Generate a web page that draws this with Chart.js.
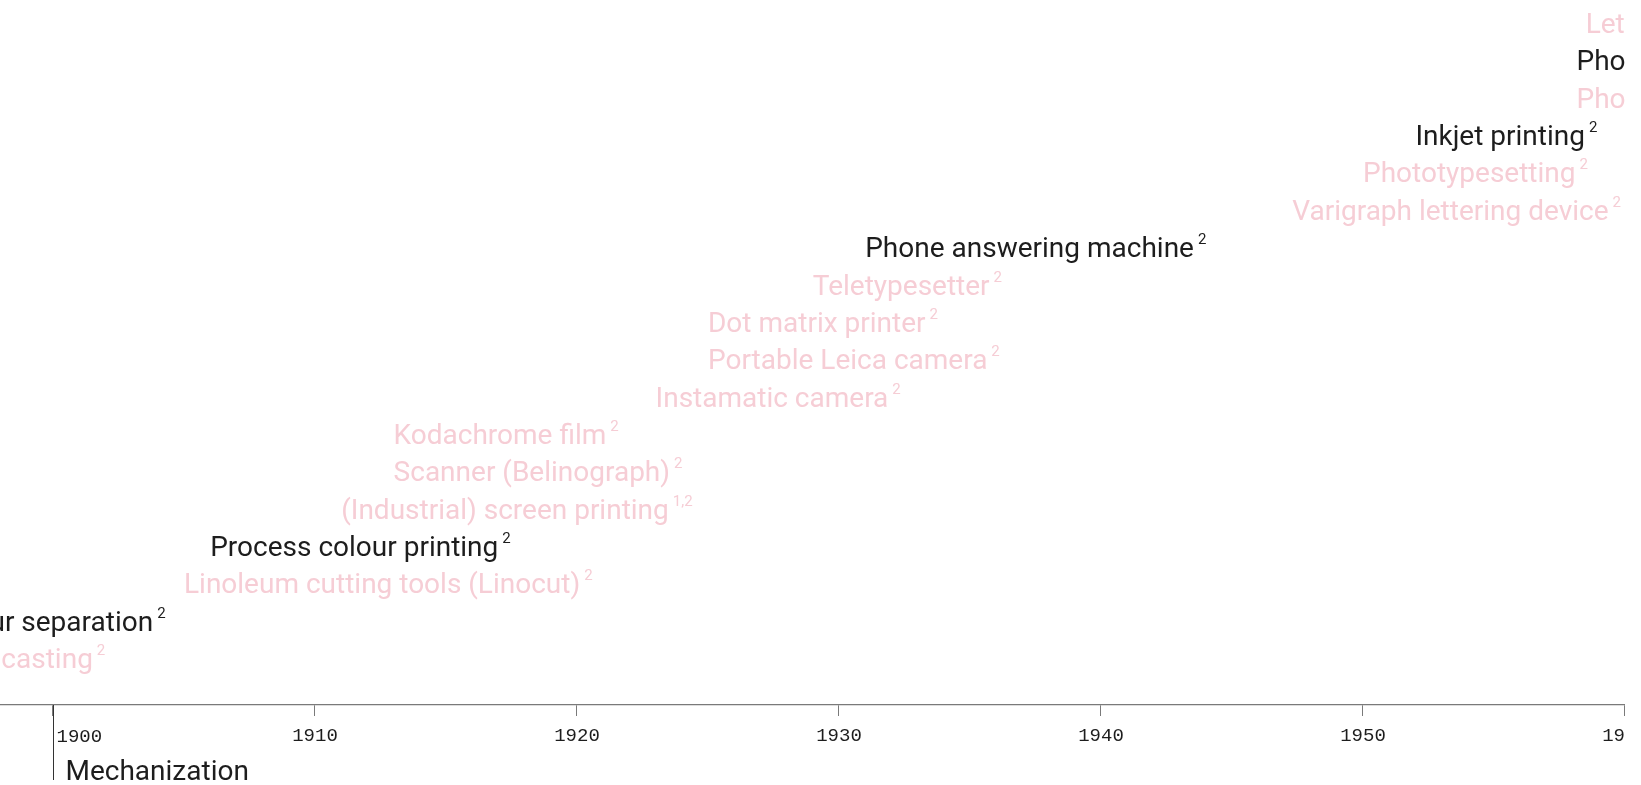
<!DOCTYPE html>
<html>
<head>
<meta charset="utf-8">
<script src="https://cdn.jsdelivr.net/npm/chart.js@4.4.1/dist/chart.umd.min.js"></script>
<style>
  html, body { margin: 0; padding: 0; background: #fff; }
  #wrap { position: absolute; left: 0; top: 0; width: 1625px; height: 785px; overflow: hidden; }
  #timeline { position: absolute; left: -400px; top: 0; }
</style>
</head>
<body>
<div id="wrap"><canvas id="timeline" width="2100" height="785"></canvas></div>
<script>
// 発明のタイムライン (下の行ほど古い)
const inventions = [
  'Monotype casting',
  'Colour separation',
  'Linoleum cutting tools (Linocut)',
  'Process colour printing',
  '(Industrial) screen printing',
  'Scanner (Belinograph)',
  'Kodachrome film',
  'Instamatic camera',
  'Portable Leica camera',
  'Dot matrix printer',
  'Teletypesetter',
  'Phone answering machine',
  'Varigraph lettering device',
  'Phototypesetting',
  'Inkjet printing',
  'Photoengraving',
  'Photocopier',
  'Letraset',
];
const years = [1893, 1895.4, 1905, 1906, 1911, 1913, 1913, 1923, 1925, 1925, 1929, 1931, 1947.3, 1950, 1952, 1958.15, 1958.15, 1958.5];
const rows = [0, 1, 2, 3, 4, 5, 6, 7, 8, 9, 10, 11, 12, 13, 14, 15, 16, 17];
const notes = ['2', '2', '2', '2', '1,2', '2', '2', '2', '2', '2', '2', '2', '2', '2', '2', '2', '2', '2'];
const highlighted = [false, true, false, true, false, false, false, false, false, false, false, true, false, false, true, false, true, false];
const tickYears = [1890, 1900, 1910, 1920, 1930, 1940, 1950, 1960];
const eraYear = 1900;
const eraName = 'Mechanization';

const PINK = '#f6cdd5';
const INK = '#1d1d1d';
const AXIS = '#7a7a7a';

// ラベル描画プラグイン
const labelPlugin = {
  id: 'inventionLabels',
  afterDatasetsDraw(chart) {
    const ctx = chart.ctx;
    const meta = chart.getDatasetMeta(0);
    ctx.save();
    meta.data.forEach((pt, i) => {
      const base = pt.y + 10;
      ctx.fillStyle = highlighted[i] ? INK : PINK;
      ctx.font = '28px Roboto';
      ctx.textAlign = 'left';
      ctx.textBaseline = 'alphabetic';
      ctx.fillText(inventions[i], pt.x, base);
      const w = ctx.measureText(inventions[i]).width;
      ctx.font = '15px Roboto';
      ctx.fillText(notes[i], pt.x + w + 4, base - 13);
    });

    // 時代の区切り
    const xs = chart.scales.x;
    const ex = Math.round(xs.getPixelForValue(eraYear)) + 0.5;
    const top = chart.chartArea.bottom;
    ctx.strokeStyle = '#333';
    ctx.lineWidth = 1;
    ctx.beginPath();
    ctx.moveTo(ex, top);
    ctx.lineTo(ex, top + 75);
    ctx.stroke();
    ctx.fillStyle = INK;
    ctx.font = '19px "Liberation Mono"';
    ctx.textBaseline = 'alphabetic';
    ctx.fillText(String(eraYear), ex + 3, top + 37);
    ctx.font = '28px Roboto';
    ctx.fillText(eraName, ex + 12, top + 75);
    ctx.restore();
  },
};

new Chart(document.getElementById('timeline'), {
  type: 'scatter',
  data: {
    datasets: [{
      data: years.map((y, i) => ({ x: y, y: rows[i] })),
      pointRadius: 0,
      pointHoverRadius: 0,
    }],
  },
  options: {
    responsive: false,
    animation: false,
    events: [],
    layout: { padding: 0 },
    plugins: { legend: { display: false }, tooltip: { enabled: false } },
    scales: {
      x: {
        type: 'linear',
        min: 1882.71,
        max: 1962.863,
        afterBuildTicks: s => { s.ticks = tickYears.map(v => ({ value: v })); },
        afterFit: s => { s.height = 80; },
        grid: { drawOnChartArea: false, drawTicks: true, tickLength: 11, color: AXIS, lineWidth: 1 },
        border: { display: true, color: AXIS, width: 1.3 },
        ticks: {
          color: INK,
          padding: 9,
          maxRotation: 0,
          autoSkip: false,
          font: { family: 'Liberation Mono', size: 19 },
          callback: v => (v === eraYear ? '' : String(v)),
        },
      },
      y: {
        display: false,
        min: -1.258,
        max: 17.617,
      },
    },
  },
  plugins: [labelPlugin],
});
</script>
</body>
</html>
